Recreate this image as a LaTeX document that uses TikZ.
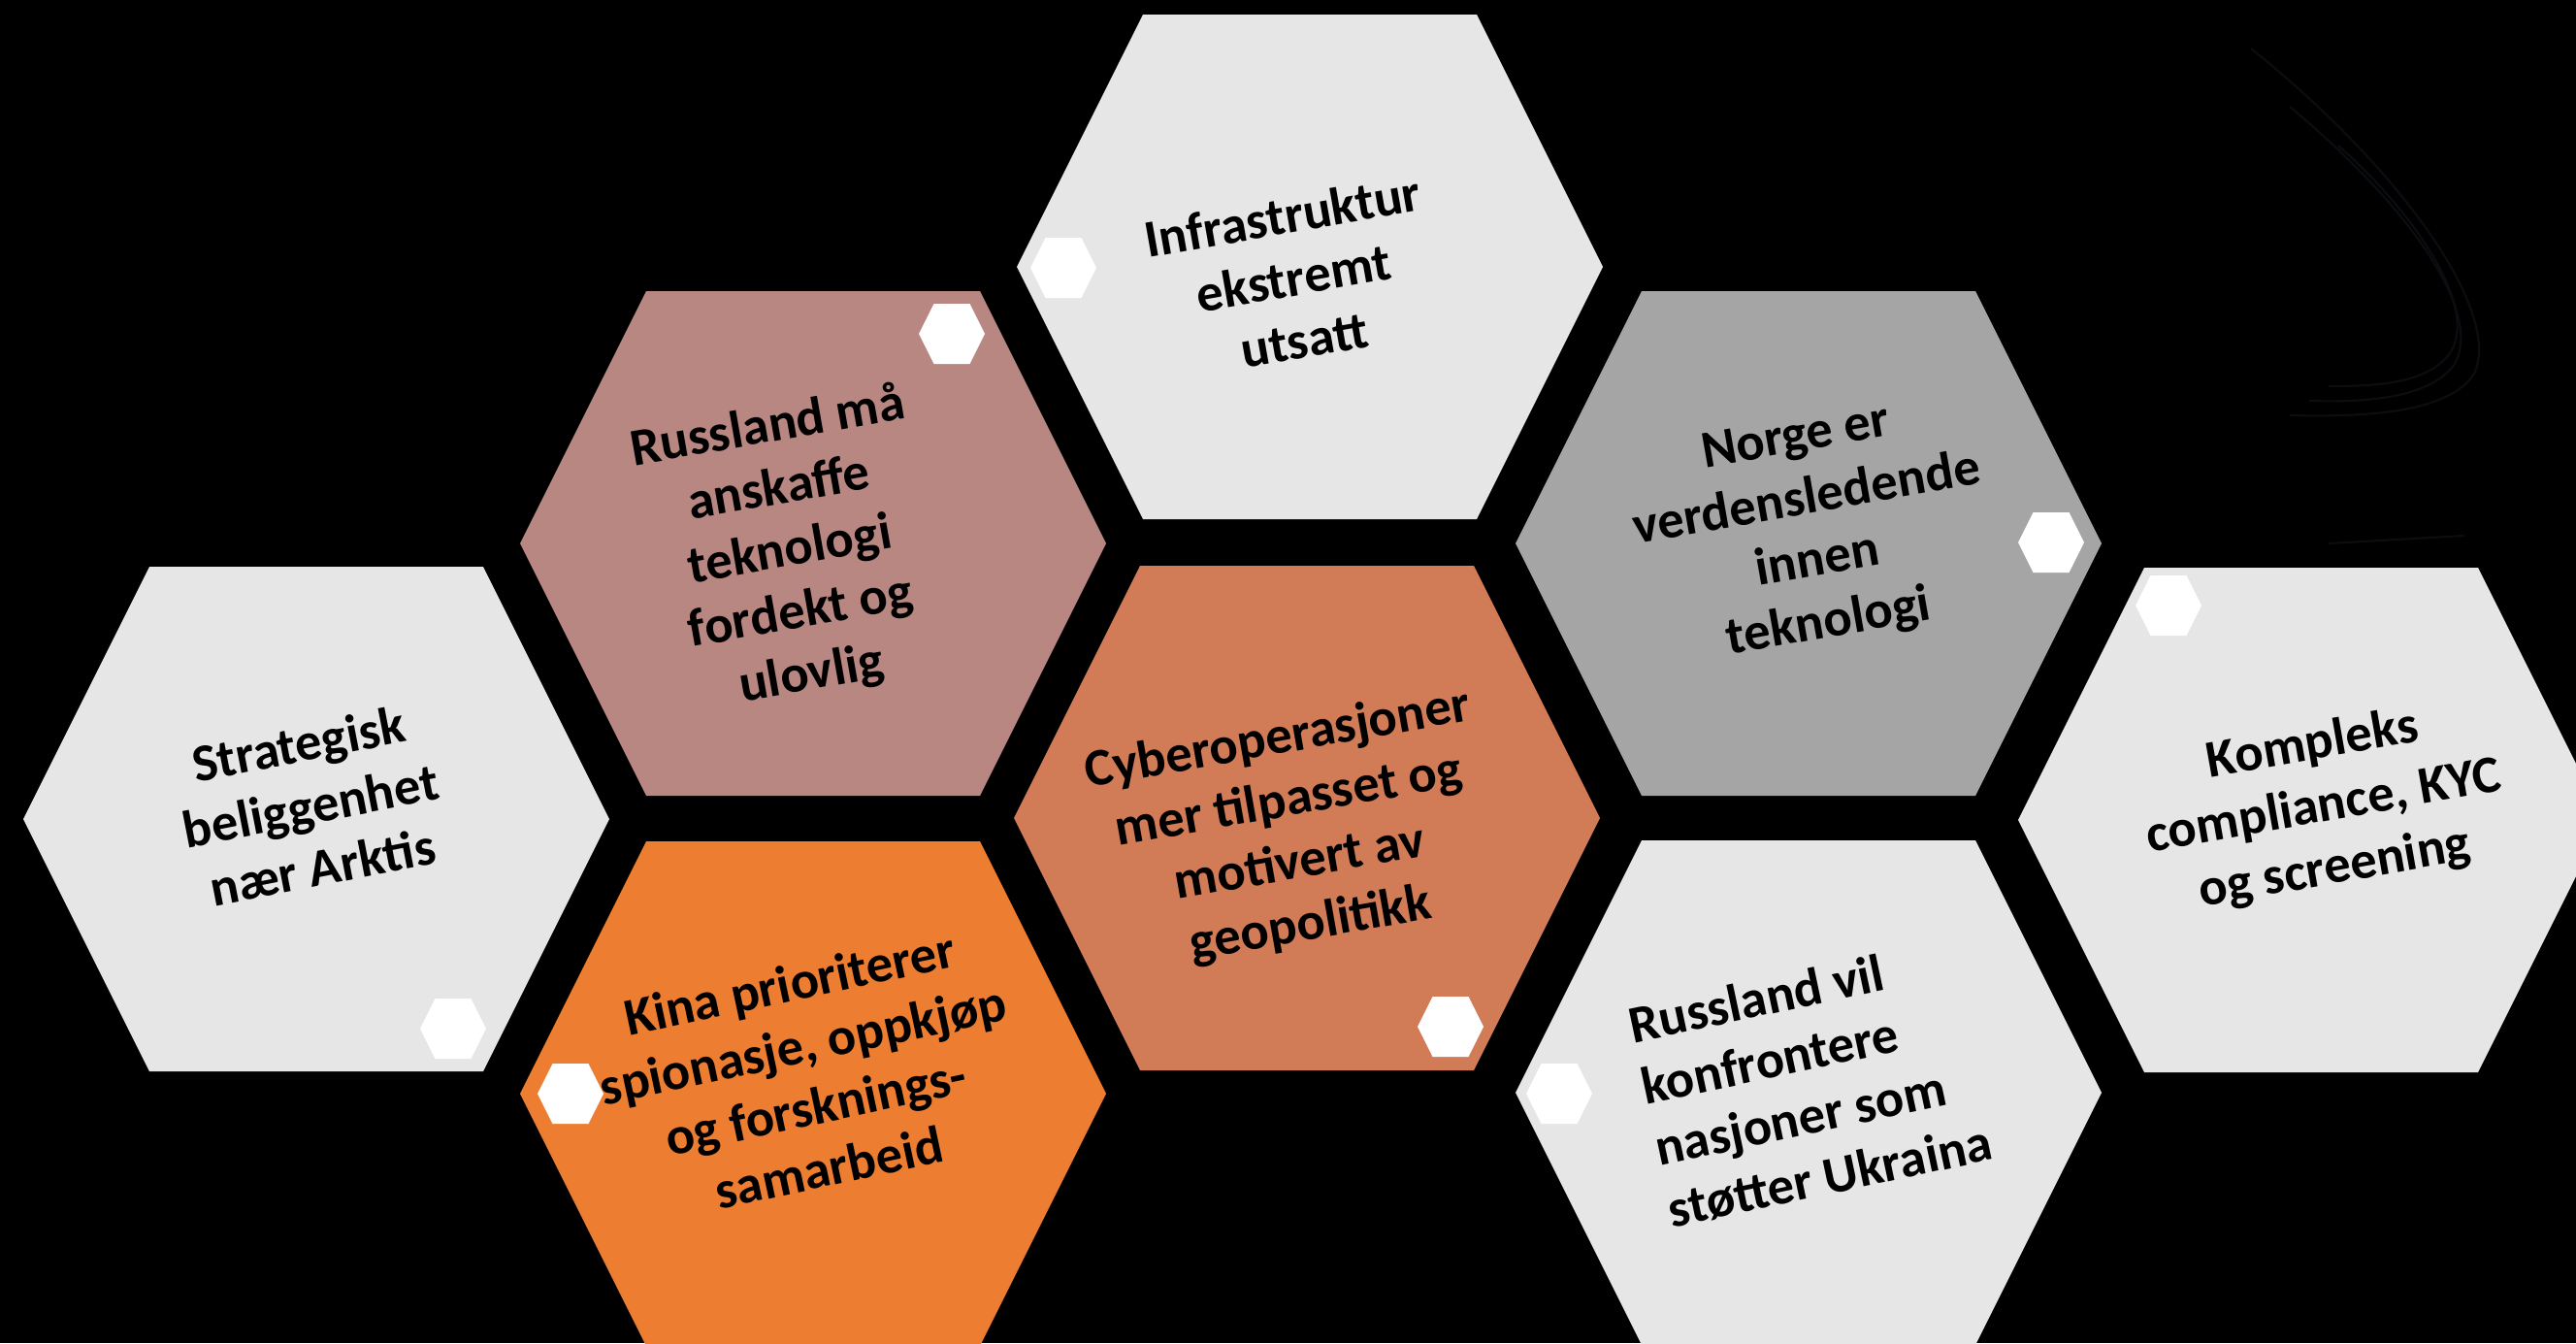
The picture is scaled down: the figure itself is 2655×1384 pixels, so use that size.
\documentclass[tikz,border=0pt]{standalone}
\usepackage{fontspec}
\setmainfont{Carlito}
\definecolor{hexlight}{HTML}{E6E6E6}
\definecolor{hexrose}{HTML}{B98782}
\definecolor{hexgray}{HTML}{A5A5A5}
\definecolor{hexterra}{HTML}{D27B57}
\definecolor{hexorange}{HTML}{ED7D31}
\definecolor{swooshcol}{HTML}{0B0D10}
\tikzset{
  pics/bighex/.style={code={\fill[#1] (-302,0) -- (-172,260) -- (172,260) -- (302,0) -- (172,-260) -- (-172,-260) -- cycle;}},
  pics/dothex/.style={code={\fill[white] (-34,0) -- (-18.5,31) -- (18.5,31) -- (34,0) -- (18.5,-31) -- (-18.5,-31) -- cycle;}},
  hextext/.style={align=center, rotate=#1, inner sep=0pt, text=black,
    font=\bfseries\fontsize{15.5}{18.4}\selectfont},
  hextext/.default=10,
  swoosh/.style={draw=swooshcol, line width=0.6pt},
}
\begin{document}
\begin{tikzpicture}[x=0.01cm, y=-0.01cm]
\fill[black] (0,0) rectangle (2655,1384);
\useasboundingbox (0,0) rectangle (2655,1384);
% faint swoosh
\draw[swoosh] (2320,50) .. controls (2470,170) and (2580,320) .. (2550,385) .. controls (2525,425) and (2440,430) .. (2360,428);
\draw[swoosh] (2360,110) .. controls (2480,210) and (2560,320) .. (2530,375) .. controls (2505,410) and (2440,415) .. (2380,413);
\draw[swoosh] (2410,150) .. controls (2500,230) and (2560,330) .. (2520,370) .. controls (2495,395) and (2450,398) .. (2400,398);
\draw[swoosh] (2400,560) -- (2540,552);
% hex centres
\coordinate (c1) at (1350,275);
\coordinate (c2) at (838,560);
\coordinate (c3) at (1864,560);
\coordinate (c4) at (326,844);
\coordinate (c5) at (1347,843);
\coordinate (c6) at (2382,845);
\coordinate (c7) at (838,1127);
\coordinate (c8) at (1864,1126);
\path (c1) pic {bighex=hexlight};
\path (c2) pic {bighex=hexrose};
\path (c3) pic {bighex=hexgray};
\path (c4) pic {bighex=hexlight};
\path (c5) pic {bighex=hexterra};
\path (c6) pic {bighex=hexlight};
\path (c7) pic {bighex=hexorange};
\path (c8) pic {bighex=hexlight};
% small white hexagons
\coordinate (d1) at (1096,276);
\coordinate (d2) at (981,344);
\coordinate (d3) at (2114,559);
\coordinate (d4) at (467,1060);
\coordinate (d5) at (1495,1058);
\coordinate (d6) at (2235,624);
\coordinate (d7) at (588,1127);
\coordinate (d8) at (1607,1127);
\foreach \d in {d1,d2,d3,d4,d5,d6,d7,d8} {\path (\d) pic {dothex};}
% texts
\node[hextext] (t1) at (1333,286) {Infrastruktur\\ekstremt\\utsatt};
\node[hextext] (t2) at (814,568) {Russland må\\anskaffe\\teknologi\\fordekt og\\ulovlig};
\node[hextext] (t3) at (1868,548) {Norge er\\verdensledende\\innen\\teknologi};
\node[hextext=11] (t4) at (320,830) {Strategisk\\beliggenhet\\nær Arktis};
\node[hextext] (t5) at (1334,858) {Cyberoperasjoner\\mer tilpasset og\\motivert av\\geopolitikk};
\node[hextext] (t6) at (2395,832) {Kompleks\\compliance, KYC\\og screening};
\node[hextext=12] (t7) at (834,1108) {Kina prioriterer\\spionasje, oppkjøp\\og forsknings-\\samarbeid};
\node[hextext=12, align=left] (t8) at (1866,1117) {Russland vil\\konfrontere\\nasjoner som\\støtter Ukraina};
\end{tikzpicture}
\end{document}
